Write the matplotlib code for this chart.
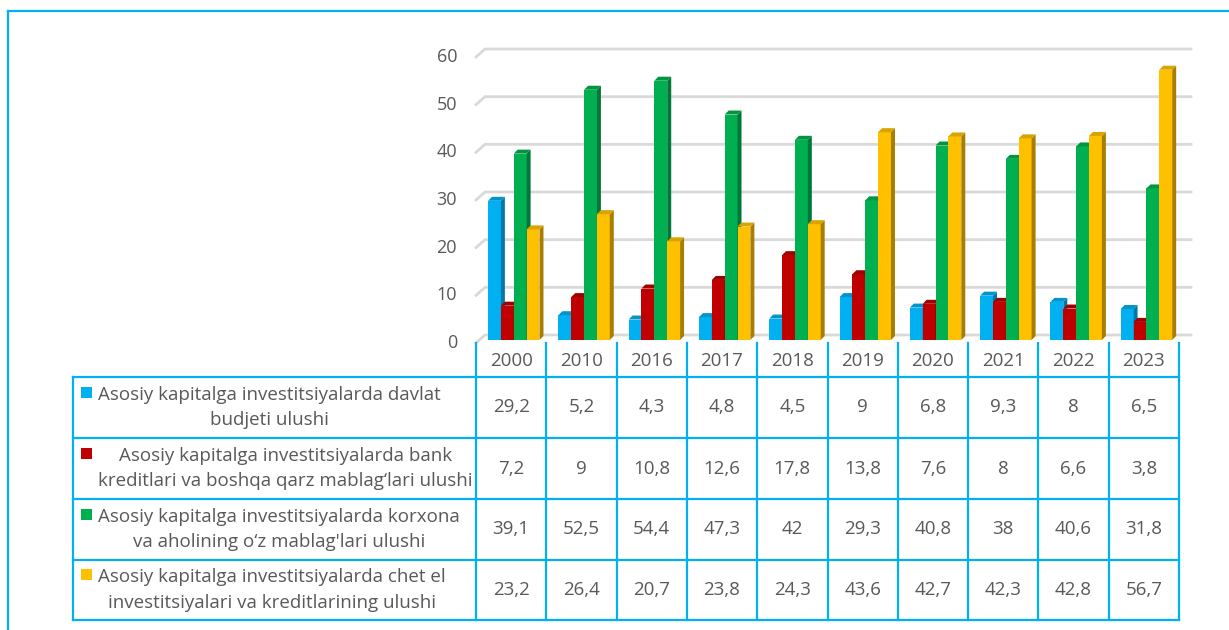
import matplotlib.pyplot as plt
from matplotlib.patches import Polygon
from matplotlib.transforms import ScaledTranslation, blended_transform_factory

years = ['2000', '2010', '2016', '2017', '2018', '2019', '2020', '2021', '2022', '2023']
davlat = [29.2, 5.2, 4.3, 4.8, 4.5, 9, 6.8, 9.3, 8, 6.5]
bank = [7.2, 9, 10.8, 12.6, 17.8, 13.8, 7.6, 8, 6.6, 3.8]
korxona = [39.1, 52.5, 54.4, 47.3, 42, 29.3, 40.8, 38, 40.6, 31.8]
chet_el = [23.2, 26.4, 20.7, 23.8, 24.3, 43.6, 42.7, 42.3, 42.8, 56.7]
series = [davlat, bank, korxona, chet_el]
labels = [
    "Asosiy kapitalga investitsiyalarda davlat\nbudjeti ulushi",
    "Asosiy kapitalga investitsiyalarda bank\nkreditlari va boshqa qarz mablag\u2018lari ulushi",
    "Asosiy kapitalga investitsiyalarda korxona\nva aholining o\u2018z mablag'lari ulushi",
    "Asosiy kapitalga investitsiyalarda chet el\ninvestitsiyalari va kreditlarining ulushi",
]
y_ticks = [0, 10, 20, 30, 40, 50, 60]

front = ['#00B0F0', '#C00000', '#00B050', '#FFC000']
side = ['#0079A8', '#7A0000', '#00783A', '#A87E00']
top = ['#0096CC', '#A00000', '#00963F', '#D9A300']
blue = '#00B0F0'
grey = '#595959'

plt.rcParams['font.family'] = ['Open Sans', 'DejaVu Sans']

W, H = 1229, 630
fig = plt.figure(figsize=(W / 100, H / 100), dpi=100)

def fx(x):
    return x / W

def fy(y):
    return 1 - y / H

# rama (yuqori va chap chiziq)
fig.add_artist(plt.Line2D([fx(8), 1], [fy(11), fy(11)], color=blue, lw=1.6))
fig.add_artist(plt.Line2D([fx(8), fx(8)], [fy(11), 0], color=blue, lw=1.6))

ax = fig.add_axes([fx(476), fy(340), 703 / W, 286 / H])
ax.set_xlim(0, 10)
ax.set_ylim(0, 60)
ax.axis('off')

def off(dx, dy):
    return ax.transData + ScaledTranslation(dx / 100, dy / 100, fig.dpi_scale_trans)

# orqa devordagi to'r chiziqlari va y belgilar
inv = fig.transFigure.inverted()
for v in y_ticks:
    p0 = off(0, -3).transform((0, v))
    p1 = off(9, 5).transform((0, v))
    p2 = off(12, 5).transform((10, v))
    a, b, c = inv.transform([p0, p1, p2])
    fig.add_artist(plt.Line2D([a[0], b[0], c[0]], [a[1], b[1], c[1]],
                              color='#D9D9D9', lw=2, zorder=0))
    ax.text(0, v, str(v), transform=off(-19, -3), ha='right', va='center',
            fontsize=13, color=grey)

# 3D ko'rinishdagi ustunlar
bw = 0.183
x0 = 0.171
ddx = 4 / 70.3
ddy = 4 / (286 / 60)
for i in range(len(years)):
    for j, vals in enumerate(series):
        v = vals[i]
        x = i + x0 + j * bw
        ax.bar(x, v, width=bw, align='edge', color=front[j], lw=0,
               zorder=3 + 2 * j)
        ax.add_patch(Polygon([(x + bw, 0), (x + bw + ddx, ddy), (x + bw + ddx, v + ddy), (x + bw, v)],
                             closed=True, facecolor=side[j], lw=0, zorder=4 + 2 * j, clip_on=False))
        ax.add_patch(Polygon([(x, v), (x + ddx, v + ddy), (x + bw + ddx, v + ddy), (x + bw, v)],
                             closed=True, facecolor=top[j], lw=0, zorder=4 + 2 * j, clip_on=False))

# ma'lumotlar jadvali
bt = blended_transform_factory(ax.transData, fig.transFigure)
rows_y = [377, 438, 499, 560, 620]
for y in rows_y:
    fig.add_artist(plt.Line2D([fx(73), fx(1179)], [fy(y), fy(y)], color=blue, lw=1.6))
fig.add_artist(plt.Line2D([fx(73), fx(73)], [fy(377), fy(620)], color=blue, lw=1.6))
for i in range(len(years) + 1):
    ax.plot([i, i], [fy(343), fy(620)], transform=bt, color=blue, lw=1.6, clip_on=False)
for i, yr in enumerate(years):
    ax.text(i + 0.5, fy(361), yr, transform=bt, ha='center', va='center',
            fontsize=13.5, color=grey)
    for r, vals in enumerate(series):
        yc = (rows_y[r] + rows_y[r + 1]) / 2
        ax.text(i + 0.5, fy(yc), f"{vals[i]:g}".replace('.', ','), transform=bt,
                ha='center', va='center', fontsize=13.5, color=grey)

for r, lab in enumerate(labels):
    yc = (rows_y[r] + rows_y[r + 1]) / 2
    fig.text(fx(98), fy(yc), lab, ha='left', va='center', multialignment='center',
             fontsize=13.5, color=grey, linespacing=1.55)
    fig.add_artist(plt.Rectangle((fx(81), fy(yc - 10)), 11 / W, 11 / H,
                                 facecolor=front[r], lw=0))

fig.savefig('out.png', dpi=100)
